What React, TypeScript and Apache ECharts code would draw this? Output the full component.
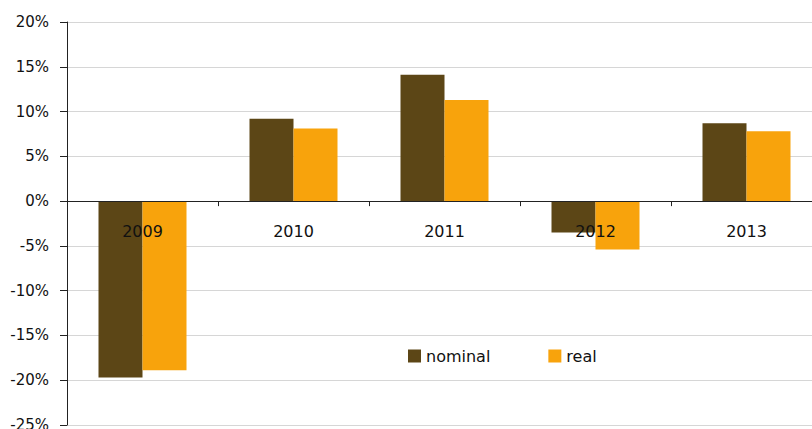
import React, { useEffect, useRef } from "react";
import * as echarts from "echarts";

const years = ["2009", "2010", "2011", "2012", "2013"];
const nominal = [-19.7, 9.2, 14.1, -3.5, 8.7];
const real = [-18.9, 8.1, 11.3, -5.4, 7.8];
const seriesNames = ["nominal", "real"];

export default function App() {
  const ref = useRef<HTMLDivElement>(null);
  useEffect(() => {
    const chart = echarts.init(ref.current!, undefined, { renderer: "svg" });
    const font = "DejaVu Sans";
    chart.setOption({
      animation: false,
      backgroundColor: "#ffffff",
      textStyle: { fontFamily: font },
      grid: { left: 67, top: 22, bottom: 4, width: 755, outerBoundsMode: "none", containLabel: false },
      legend: {
        left: 403,
        top: 343,
        itemWidth: 13,
        itemHeight: 13,
        itemGap: 58,
        icon: "rect",
        textStyle: { fontSize: 16, color: "#111", fontFamily: font },
        data: seriesNames,
      },
      xAxis: {
        type: "category",
        data: years,
        z: 10,
        axisLine: { onZero: true, lineStyle: { color: "#222", width: 1 } },
        axisTick: { show: true, length: 5, inside: false, lineStyle: { color: "#222" } },
        axisLabel: { margin: -202, fontSize: 16, color: "#111", fontFamily: font },
        splitLine: { show: false },
      },
      yAxis: {
        type: "value",
        min: -25,
        max: 20,
        interval: 5,
        axisLine: { show: true, lineStyle: { color: "#222", width: 1 } },
        axisTick: { show: true, length: 7, lineStyle: { color: "#222" } },
        axisLabel: {
          formatter: "{value}%",
          fontSize: 15,
          color: "#111",
          margin: 18,
          fontFamily: font,
        },
        splitLine: { show: true, lineStyle: { color: "#d6d6d6", width: 1 } },
      },
      series: [
        {
          name: seriesNames[0],
          type: "bar",
          data: nominal,
          barWidth: 44,
          barGap: "0%",
          itemStyle: { color: "#5c4616" },
        },
        {
          name: seriesNames[1],
          type: "bar",
          data: real,
          barWidth: 44,
          barGap: "0%",
          itemStyle: { color: "#f8a30c" },
        },
      ],
    });
    return () => chart.dispose();
  }, []);
  return (
    <div
      ref={ref}
      style={{ position: "fixed", left: 0, top: 0, width: 812, height: 429 }}
    />
  );
}
